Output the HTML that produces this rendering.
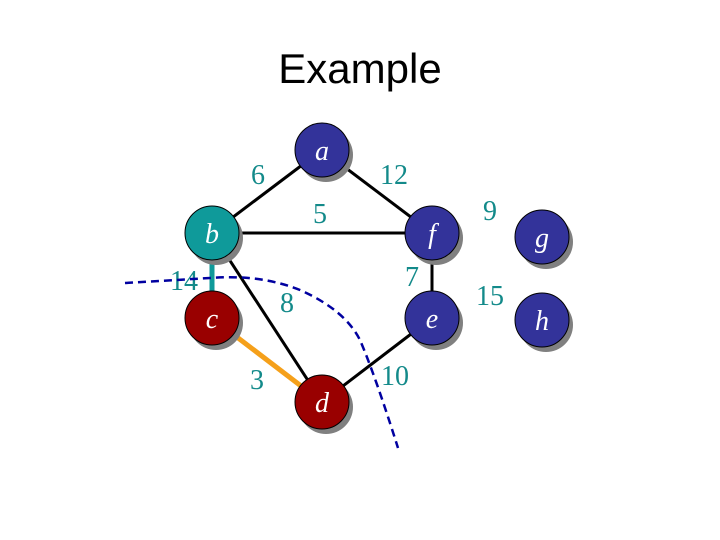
<!DOCTYPE html>
<html><head><style>body{margin:0;background:#fff}svg{display:block}</style></head><body>
<svg width="720" height="540" xmlns="http://www.w3.org/2000/svg">
<rect width="720" height="540" fill="#fff"/>
<text x="360" y="83" font-family="Liberation Sans, sans-serif" font-size="42" text-anchor="middle" fill="#000">Example</text>
<g stroke="#000" stroke-width="3">
<line x1="212" y1="233" x2="322" y2="150"/>
<line x1="322" y1="150" x2="432" y2="233"/>
<line x1="212" y1="233" x2="432" y2="233"/>
<line x1="212" y1="233" x2="322" y2="402"/>
<line x1="432" y1="233" x2="432" y2="318"/>
<line x1="432" y1="318" x2="322" y2="402"/>
</g>
<line x1="212" y1="233" x2="212" y2="318" stroke="#0f9a9a" stroke-width="5"/>
<line x1="212" y1="318" x2="322" y2="402" stroke="#f5a01a" stroke-width="5"/>
<g fill="#808080">
<circle cx="326" cy="155" r="27"/><circle cx="216" cy="238" r="27"/><circle cx="216" cy="323" r="27"/>
<circle cx="326" cy="407" r="27"/><circle cx="436" cy="238" r="27"/><circle cx="436" cy="323" r="27"/>
<circle cx="546" cy="242" r="27"/><circle cx="546" cy="325" r="27"/>
</g>
<g stroke="#000" stroke-width="1">
<circle cx="322" cy="150" r="27" fill="#33339a"/>
<circle cx="212" cy="233" r="27" fill="#0f9a9a"/>
<circle cx="212" cy="318" r="27" fill="#990000"/>
<circle cx="322" cy="402" r="27" fill="#990000"/>
<circle cx="432" cy="233" r="27" fill="#33339a"/>
<circle cx="432" cy="318" r="27" fill="#33339a"/>
<circle cx="542" cy="237" r="27" fill="#33339a"/>
<circle cx="542" cy="320" r="27" fill="#33339a"/>
</g>
<g font-family="Liberation Serif, serif" font-style="italic" font-size="28" fill="#fff" text-anchor="middle">
<text x="322" y="160">a</text><text x="212" y="243">b</text><text x="212" y="328">c</text>
<text x="322" y="412">d</text><text x="432" y="243">f</text><text x="432" y="328">e</text>
<text x="542" y="247">g</text><text x="542" y="330">h</text>
</g>
<g font-family="Liberation Serif, serif" font-size="28" fill="#138a8a" text-anchor="middle">
<text x="258" y="184">6</text><text x="394" y="184">12</text><text x="320" y="223">5</text>
<text x="184" y="290">14</text><text x="287" y="312">8</text><text x="412" y="286">7</text>
<text x="257" y="389">3</text><text x="395" y="385">10</text>
<text x="490" y="220">9</text><text x="490" y="305">15</text>
</g>
<path d="M125 283 L210 278 Q260 274 300 290 Q345 310 360 340 Q375 375 398 448" fill="none" stroke="#0000a0" stroke-width="2.5" stroke-dasharray="8,5"/>
</svg>
</body></html>
